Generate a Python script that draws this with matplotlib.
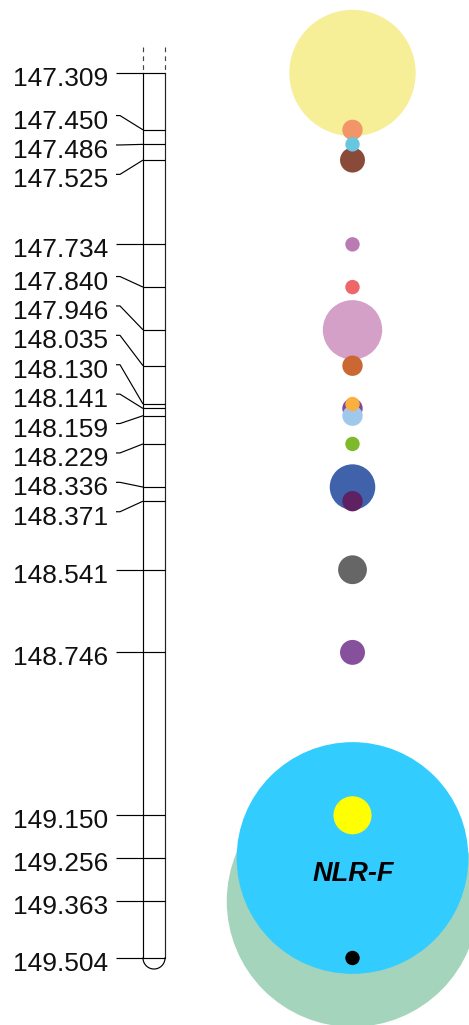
import matplotlib
matplotlib.use("Agg")
import matplotlib.pyplot as plt
from matplotlib.transforms import ScaledTranslation
import numpy as np

# Marker positions along the chromosome (Mb)
positions = [147.309, 147.450, 147.486, 147.525, 147.734, 147.840, 147.946,
             148.035, 148.130, 148.141, 148.159, 148.229, 148.336, 148.371,
             148.541, 148.746, 149.150, 149.256, 149.363, 149.504]

# Number of hits at each position (bubble area is proportional)
counts = [77, 2, 1, 3, 1, 1, 17, 2, 1, 2, 2, 1, 10, 2, 4, 3, 7, 259, 305, 1]

colors = ["#F7EE98", "#F29669", "#67C6E0", "#8A4A3A", "#BA7AB4", "#EE656A",
          "#D5A0C8", "#CB6732", "#FBAF3F", "#7E4A9C", "#A0C8EB", "#7DB92A",
          "#3F62AA", "#5E2262", "#666666", "#87509C", "#FFFF00", "#33CCFF",
          "#A5D4BC", "#000000"]

tick_labels = [f"{p:.3f}" for p in positions]

gene_name = "NLR-F"
gene_anchor = 149.256

# ---- layout ----
DPI = 100
W, H = 469, 1025
PX_PER_MB = 403.19
TOP_PX = 73
LABEL_GAP_PX = 29.4
BAR_L, BAR_R = 143, 165
BUBBLE_X = 352.5
UNIT_R_PX = 7.2          # radius of a single-count bubble

plt.rcParams['font.family'] = ['Liberation Sans', 'DejaVu Sans']

fig = plt.figure(figsize=(W / DPI, H / DPI), dpi=DPI)
ax = fig.add_axes([0, 0, 1, 1])
ax.set_xlim(0, W)
y_top = positions[0] - TOP_PX / PX_PER_MB
y_bot = y_top + H / PX_PER_MB
ax.set_ylim(y_bot, y_top)
ax.axis('off')


def spread_labels(vals, gap):
    """Group overlapping labels into evenly spaced blocks centred on their span."""
    clusters = [[i] for i in range(len(vals))]

    def place(c):
        mid = (vals[c[0]] + vals[c[-1]]) / 2
        start = mid - gap * (len(c) - 1) / 2
        return [start + k * gap for k in range(len(c))]

    merged = True
    while merged:
        merged = False
        for j in range(len(clusters) - 1):
            a, b = place(clusters[j]), place(clusters[j + 1])
            if b[0] - a[-1] < gap - 1e-9:
                clusters[j] = clusters[j] + clusters[j + 1]
                del clusters[j + 1]
                merged = True
                break
    out = []
    for c in clusters:
        out += place(c)
    return out


label_y = spread_labels(positions, LABEL_GAP_PX / PX_PER_MB)

lw = 0.85
# chromosome bar
ax.plot([BAR_L, BAR_L], [positions[0], positions[-1]], color="black", lw=lw)
ax.plot([BAR_R, BAR_R], [positions[0], positions[-1]], color="#222222", lw=lw)
dash_top = positions[0] - 26 / PX_PER_MB
for xb in (BAR_L, BAR_R):
    ax.plot([xb, xb], [dash_top, positions[0]], color="#444444", lw=lw,
            linestyle=(0, (4, 3.5)))
t = np.linspace(0, np.pi, 60)
rbar = (BAR_R - BAR_L) / 2
ax.plot((BAR_L + BAR_R) / 2 + rbar * np.cos(t),
        positions[-1] + rbar / PX_PER_MB * np.sin(t), color="black", lw=lw)

# ticks and connectors
text_off = ScaledTranslation(0, -13 / DPI, fig.dpi_scale_trans)
for p, ly, lab in zip(positions, label_y, tick_labels):
    ax.plot([116, 120, BAR_L], [ly, ly, p], color="black", lw=lw,
            solid_capstyle='butt')
    ax.plot([BAR_L, BAR_R], [p, p], color="black", lw=lw, solid_capstyle='butt')
    ax.text(108, ly, lab, ha='right', va='baseline', fontsize=19,
            color="#111111", transform=ax.transData + text_off)

# bubbles, largest drawn first
order = sorted(range(len(positions)), key=lambda i: -counts[i])
unit_s = (2 * UNIT_R_PX * 72 / DPI) ** 2
ax.scatter([BUBBLE_X] * len(order),
           [positions[i] for i in order],
           s=[counts[i] * unit_s for i in order],
           c=[colors[i] for i in order],
           linewidths=0, zorder=3)

gene_off = ScaledTranslation(0, -22.7 / DPI, fig.dpi_scale_trans)
ax.text(353.7, gene_anchor, gene_name, ha='center', va='baseline',
        fontsize=19.5, fontweight='bold', fontstyle='italic', color="black",
        zorder=4, transform=ax.transData + gene_off)

fig.savefig("out.png", dpi=DPI)
